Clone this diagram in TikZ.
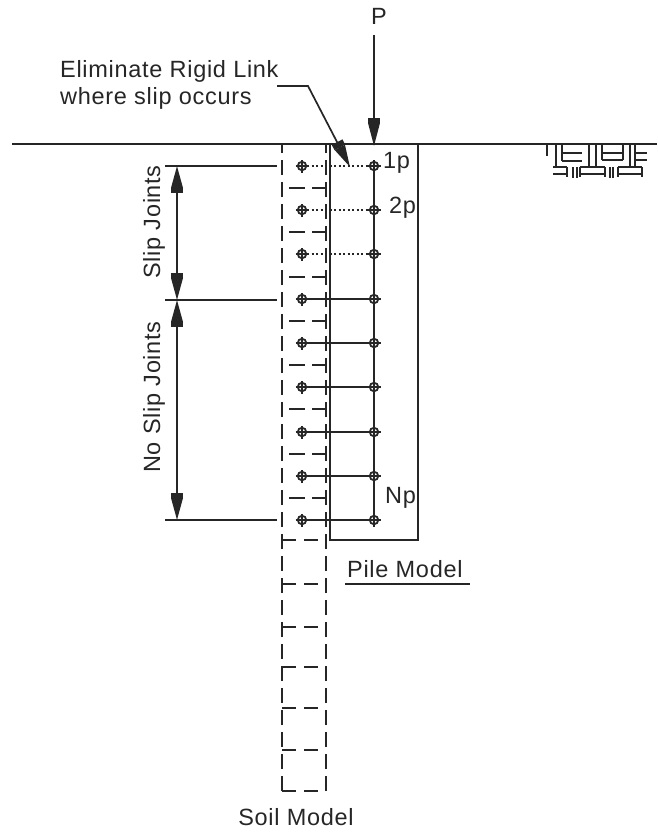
\documentclass[tikz,border=0pt]{standalone}
\usepackage{fontspec}
\setmainfont[LetterSpace=3]{Liberation Sans}
\usepackage{tikz}
\usetikzlibrary{arrows.meta, positioning}
\tikzset{
	lab/.style={inner sep=0pt, font=\fontsize{23.5}{25}\selectfont, text=black!85},
	wire/.style={line width=1.7pt, black!85},
	thin wire/.style={line width=1.3pt, black!85},
	soilwall/.style={line width=1.7pt, black!85, dash pattern=on 15pt off 7pt},
	slip/.style={line width=1.6pt, black!85, dash pattern=on 2pt off 2.5pt},
	pilebox/.style={draw=black!85, line width=1.7pt, minimum width=88pt, minimum height=396pt, inner sep=0pt},
	joint/.style={circle, draw=black!85, line width=1.8pt, minimum size=8.5pt, inner sep=0pt,
		append after command={\pgfextra{\draw[line width=1.5pt,black!85]
			(\tikzlastnode.center)+(-6.5pt,0)--+(6.5pt,0) (\tikzlastnode.center)+(0,-6.5pt)--+(0,6.5pt);}}},
	arrow/.style={-{Square[length=6pt,width=12pt]Triangle[length=22pt,width=11pt]}, wire},
	dimarrow/.style={{Triangle[length=21pt,width=11pt]Square[length=6pt,width=12pt]}-{Square[length=6pt,width=12pt]Triangle[length=21pt,width=11pt]}, wire},
}
\begin{document}
\begin{tikzpicture}[x=1pt,y=-1pt,on grid,node distance=44pt and 72pt]
		\useasboundingbox (0,0) rectangle (657,833);
		% Ground and pile
		\coordinate (groundL) at (12,144);\coordinate (groundR) at (657,144);
		\draw[wire](groundL)--(groundR);
		\node[pilebox] (pile) at (374,342) {};
		% Soil model walls
		\coordinate (soilBL) at (282,791);\coordinate (soilTL) at (282,144);
		\coordinate (soilBR) at (326,791);\coordinate (soilTR) at (326,144);
		\draw[soilwall](soilBL)--(soilTL);\draw[soilwall](soilBR)--(soilTR);
		% Soil springs, upper part
		\draw[wire](289,188)--(305,188) (312,188)--(326,188);
		\draw[wire](289,232)--(305,232) (312,232)--(326,232);
		\draw[wire](289,277)--(305,277) (312,277)--(326,277);
		\draw[wire](289,321)--(305,321) (312,321)--(326,321);
		\draw[wire](289,365)--(305,365) (312,365)--(326,365);
		\draw[wire](289,409)--(305,409) (312,409)--(326,409);
		\draw[wire](289,454)--(305,454) (312,454)--(326,454);
		\draw[wire](289,498)--(305,498) (312,498)--(326,498);
		% Soil springs, lower part
		\draw[wire](282,540)--(296,540) (304,540)--(318,540);
		\draw[wire](282,584)--(296,584) (304,584)--(318,584);
		\draw[wire](282,627)--(296,627) (304,627)--(318,627);
		\draw[wire](282,667)--(296,667) (304,667)--(318,667);
		\draw[wire](282,708)--(296,708) (304,708)--(318,708);
		\draw[wire](282,750)--(296,750) (304,750)--(318,750);
		\draw[wire](282,791)--(296,791) (304,791)--(318,791);
		% Joints
		\node[joint] (s1) at (302,166) {};\node[joint,right=of s1] (p1) {};
		\node[joint,below=of s1] (s2) {};\node[joint,right=of s2] (p2) {};
		\node[joint,below=of s2] (s3) {};\node[joint,right=of s3] (p3) {};
		\node[joint,below=45pt of s3] (s4) {};\node[joint,right=of s4] (p4) {};
		\node[joint,below=of s4] (s5) {};\node[joint,right=of s5] (p5) {};
		\node[joint,below=of s5] (s6) {};\node[joint,right=of s6] (p6) {};
		\node[joint,below=45pt of s6] (s7) {};\node[joint,right=of s7] (p7) {};
		\node[joint,below=of s7] (s8) {};\node[joint,right=of s8] (p8) {};
		\node[joint,below=of s8] (s9) {};\node[joint,right=of s9] (p9) {};
		\draw[wire](p1)--(p9);
		\draw[slip](s1)--(p1);\draw[slip](s2)--(p2);\draw[slip](s3)--(p3);
		\draw[wire](s4)--(p4);\draw[wire](s5)--(p5);\draw[wire](s6)--(p6);
		\draw[wire](s7)--(p7);\draw[wire](s8)--(p8);\draw[wire](s9)--(p9);
		% Load
		\node[lab,anchor=base] (load) at (379,24) {P};
		\coordinate (loadtop) at (374,35);\coordinate (loadtip) at (374,146);
		\draw[arrow](loadtop)--(loadtip);
		% Leader to the slip link
		\node[lab,anchor=base west] (elim) at (60,77) {Eliminate Rigid Link};
		\node[lab,anchor=base west] (where) at (60,104) {where slip occurs};
		\coordinate (leadstart) at (277,86);\coordinate (leadkink) at (308,86);\coordinate (leadtip) at (350,167);
		\draw[arrow](leadstart)--(leadkink)--(leadtip);
		% Dimensions
		\coordinate (dimT) at (165,166);\coordinate (dimTe) at (277,166);
		\coordinate (dimM) at (165,300);\coordinate (dimMe) at (277,300);
		\coordinate (dimB) at (165,520);\coordinate (dimBe) at (277,520);
		\draw[wire](dimT)--(dimTe);\draw[wire](dimM)--(dimMe);\draw[wire](dimB)--(dimBe);
		\coordinate (arrT) at (177,166);\coordinate (arrM) at (177,300);\coordinate (arrB) at (177,520);
		\draw[dimarrow](arrT)--(arrM);\draw[dimarrow](arrM)--(arrB);
		\node[lab,anchor=base,rotate=90] (slipj) at (160,222) {Slip Joints};
		\node[lab,anchor=base,rotate=90] (noslipj) at (160,397) {No Slip Joints};
		% Labels
		\node[lab,anchor=base west] (l1p) at (383,168) {1p};
		\node[lab,anchor=base west] (l2p) at (389,213) {2p};
		\node[lab,anchor=base west] (lnp) at (385,503) {Np};
		\node[lab,anchor=base west] (pilemodel) at (347,577) {Pile Model};
		\coordinate (ulL) at (345,584);\coordinate (ulR) at (470,584);
		\draw[wire](ulL)--(ulR);
		\node[lab,anchor=base] (soilmodel) at (296,825) {Soil Model};
		% Ground hatch
		\draw[thin wire](547,144)--(547,156) (556,144)--(556,167) (562,144)--(562,161)
			(562,153)--(582,153) (562,161)--(582,161)
			(589,144)--(589,167) (596,144)--(596,167)
			(602,144)--(602,160) (602,153)--(623,153) (602,160)--(623,160) (623,144)--(623,160)
			(630,144)--(630,167) (635,144)--(635,167)
			(635,153)--(647,153) (635,160)--(647,160)
			(553,167)--(567,167) (553,174)--(567,174) (567,167)--(567,177)
			(573,167)--(573,178) (577,167)--(577,178)
			(580,167)--(580,177) (580,167)--(605,167) (580,174)--(605,174) (605,167)--(605,177)
			(610,167)--(610,178) (613,167)--(613,178)
			(618,167)--(618,177) (618,167)--(642,167) (618,174)--(642,174) (642,167)--(642,177);
\end{tikzpicture}
\end{document}
